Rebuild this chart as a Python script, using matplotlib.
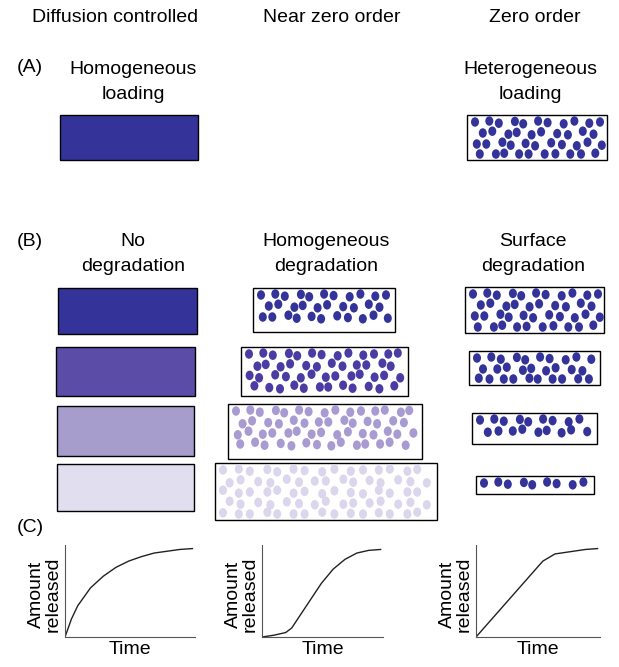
import matplotlib
matplotlib.use('Agg')
import matplotlib.pyplot as plt
from matplotlib.patches import Rectangle, Ellipse

plt.rcParams['font.family'] = ['Liberation Sans', 'DejaVu Sans']

W, H = 619, 667

# column headings and labels
headers = ['Diffusion controlled', 'Near zero order', 'Zero order']
header_x = [115, 332, 535]
b_labels = ['No\ndegradation', 'Homogeneous\ndegradation', 'Surface\ndegradation']
b_label_x = [133, 326, 533]

# boxes (left, top, right, bottom) in pixel units
solid_boxes = [(58, 288, 197, 334), (56, 347, 195, 396), (57, 406, 194, 456), (57, 464, 194, 511)]
solid_colors = ['#33339a', '#5b4ca8', '#a69dcd', '#e1def0']
homog_boxes = [(253, 288, 395, 332), (241, 347, 408, 396), (228, 404, 422, 459), (215, 463, 437, 520)]
homog_colors = ['#33339a', '#4a3ca3', '#a89bd2', '#dcd6ed']
surface_boxes = [(465, 287, 604, 333), (469, 351, 600, 385), (472, 413, 597, 444), (476, 476, 594, 494)]

# release curves (time 0..1, amount 0..1)
t1 = [0, 0.05, 0.1, 0.2, 0.3, 0.4, 0.5, 0.6, 0.7, 0.8, 0.9, 1.0]
r1 = [0, 0.2, 0.35, 0.55, 0.68, 0.78, 0.85, 0.9, 0.94, 0.96, 0.98, 0.99]
t2 = [0, 0.1, 0.2, 0.25, 0.3, 0.4, 0.5, 0.6, 0.7, 0.8, 0.9, 1.0]
r2 = [0, 0.02, 0.05, 0.1, 0.2, 0.4, 0.6, 0.76, 0.87, 0.94, 0.97, 0.98]
t3 = [0, 0.55, 0.65, 0.8, 0.9, 1.0]
r3 = [0, 0.85, 0.93, 0.96, 0.98, 0.99]

# jitter pattern for the dot texture (pixels)
jx = [0, 3, -2, 4, -3, 1, -4, 2, -1, 3]
jy = [0, -3, 2, -1, 3, -2, 1, 3, -3, 2, 0]

fig = plt.figure(figsize=(W / 100, H / 100), dpi=100)
ax = fig.add_axes([0, 0, 1, 1])
ax.set_xlim(0, W)
ax.set_ylim(H, 0)
ax.axis('off')

fs = 14
for txt, x in zip(headers, header_x):
    ax.text(x, 18, txt, ha='center', va='center', fontsize=fs)
ax.text(30, 68, '(A)', ha='center', va='center', fontsize=fs)
ax.text(133, 82, 'Homogeneous\nloading', ha='center', va='center', fontsize=fs, linespacing=1.55)
ax.text(530, 82, 'Heterogeneous\nloading', ha='center', va='center', fontsize=fs, linespacing=1.55)
ax.text(30, 241, '(B)', ha='center', va='center', fontsize=fs)
for txt, x in zip(b_labels, b_label_x):
    ax.text(x, 254, txt, ha='center', va='center', fontsize=fs, linespacing=1.55)
ax.text(30, 528, '(C)', ha='center', va='center', fontsize=fs)


def box(b, face='white'):
    l, t, r, btm = b
    ax.add_patch(Rectangle((l, t), r - l, btm - t, facecolor=face, edgecolor='black', lw=1))


def dots(b, color, step=12.5):
    l, t, r, btm = b
    k = 0
    y = t + 7
    row = 0
    while y < btm - 4:
        x = l + 8 + (6 if row % 2 else 0)
        while x < r - 5:
            cx = x + jx[k % len(jx)] * 0.6
            cy = y + jy[k % len(jy)] * 0.6
            cy = min(max(cy, t + 6), btm - 6)
            ax.add_patch(Ellipse((cx, cy), 8, 9.5, color=color, lw=0))
            x += step
            k += 1
        y += 11
        row += 1


# (A)
box((60, 115, 198, 160), '#33339a')
box((467, 115, 607, 160))
dots((467, 115, 607, 160), '#33339a')

# (B)
for b, c in zip(solid_boxes, solid_colors):
    box(b, c)
for b, c in zip(homog_boxes, homog_colors):
    box(b)
    dots(b, c, step=12.5 if c != '#dcd6ed' else 14)
for b in surface_boxes:
    box(b)
    dots(b, '#33339a')

# (C) release curves
plots = [(65, 545, 195, 637, t1, r1), (262, 545, 383, 637, t2, r2), (476, 545, 600, 637, t3, r3)]
for l, t, r, btm, tt, rr in plots:
    a = fig.add_axes([l / W, 1 - btm / H, (r - l) / W, (btm - t) / H])
    a.plot(tt, rr, color='#222222', lw=1)
    a.set_xlim(0, 1.02)
    a.set_ylim(0, 1.03)
    a.set_xticks([])
    a.set_yticks([])
    for s in ['top', 'right']:
        a.spines[s].set_visible(False)
    a.spines['left'].set_color('#555555')
    a.spines['bottom'].set_color('#555555')
    ax.text(l - 20, (t + btm) / 2 + 3, 'Amount\nreleased', rotation=90, ha='center', va='center',
            fontsize=fs, linespacing=1.0)
    ax.text((l + r) / 2, 650, 'Time', ha='center', va='center', fontsize=fs)

fig.savefig('out.png', dpi=100)
